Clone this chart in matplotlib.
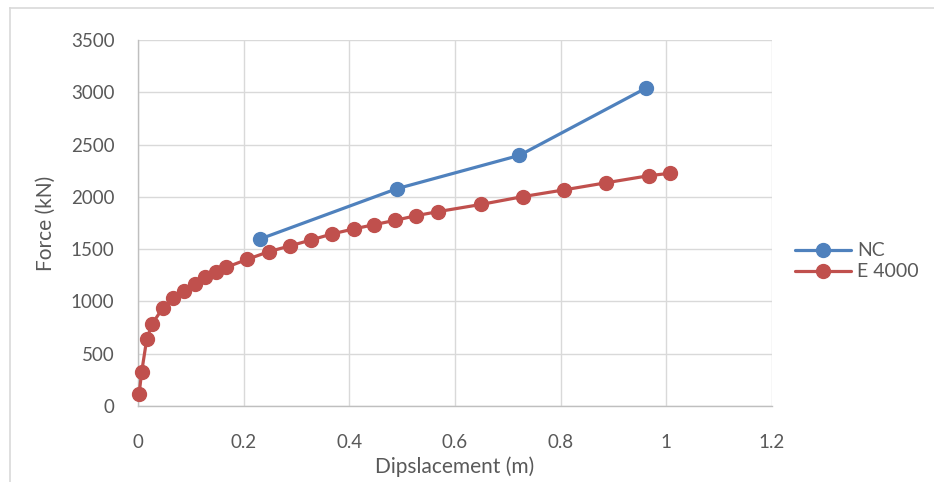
from matplotlib import pyplot as plt
from matplotlib.lines import Line2D

plt.rcParams['font.family'] = ['Lato', 'DejaVu Sans']

# NC series
nc_disp = [0.231, 0.490, 0.722, 0.962]
nc_force = [1597, 2078, 2397, 3041]

# E 4000 series
e_disp = [0.002, 0.007, 0.0165, 0.027, 0.047, 0.067, 0.087, 0.107, 0.1275,
          0.148, 0.167, 0.206, 0.2475, 0.287, 0.327, 0.367, 0.408, 0.447,
          0.487, 0.5265, 0.567, 0.6487, 0.728, 0.8055, 0.8864, 0.9665, 1.006]
e_force = [112, 328, 638, 787, 937, 1030, 1103, 1170, 1234,
           1279, 1326, 1401, 1476, 1530, 1587, 1645, 1693, 1734,
           1776, 1820, 1858, 1927, 2002, 2066, 2135, 2202, 2225]

x_ticks = [0, 0.2, 0.4, 0.6, 0.8, 1, 1.2]
x_labels = ['0', '0.2', '0.4', '0.6', '0.8', '1', '1.2']
y_ticks = [0, 500, 1000, 1500, 2000, 2500, 3000, 3500]

fig = plt.figure(figsize=(9.34, 4.82), dpi=100)
ax = fig.add_axes([138 / 934, 1 - 406 / 482, (772 - 138) / 934, (406 - 40) / 482])

ax.plot(nc_disp, nc_force, color='#4F81BD', lw=2.3, marker='o', ms=10, label='NC',
        solid_capstyle='round', clip_on=False, zorder=3)
ax.plot(e_disp, e_force, color='#C0504D', lw=2.3, marker='o', ms=10, label='E 4000',
        solid_capstyle='round', clip_on=False, zorder=3)

ax.set_xlim(0, 1.2)
ax.set_ylim(0, 3500)
ax.set_xticks(x_ticks)
ax.set_xticklabels(x_labels)
ax.set_yticks(y_ticks)
ax.grid(True, color='#D9D9D9', lw=1)
ax.set_axisbelow(True)
for s in ['top', 'right']:
    ax.spines[s].set_visible(False)
for s in ['left', 'bottom']:
    ax.spines[s].set_color('#BFBFBF')
    ax.spines[s].set_linewidth(1)
ax.tick_params(length=0, labelsize=13.5, colors='#595959')
ax.tick_params(axis='x', pad=20)
ax.tick_params(axis='y', pad=17)

ax.set_xlabel('Dipslacement (m)', fontsize=15, color='#595959', labelpad=4)
ax.set_ylabel('Force (kN)', fontsize=15, color='#595959', labelpad=11)

leg = ax.legend(loc='center left', bbox_to_anchor=(1.036, 0.395), frameon=False,
                fontsize=14, labelcolor='#595959', handlelength=2.9,
                handletextpad=0.3, labelspacing=0.2, borderpad=0, borderaxespad=0)

# light frame of the chart area
fig.add_artist(Line2D([10 / 934, 10 / 934], [0, 1 - 8 / 482], color='#D9D9D9', lw=1.2))
fig.add_artist(Line2D([10 / 934, 1], [1 - 8 / 482, 1 - 8 / 482], color='#D9D9D9', lw=1.2))

plt.savefig('out.png')
